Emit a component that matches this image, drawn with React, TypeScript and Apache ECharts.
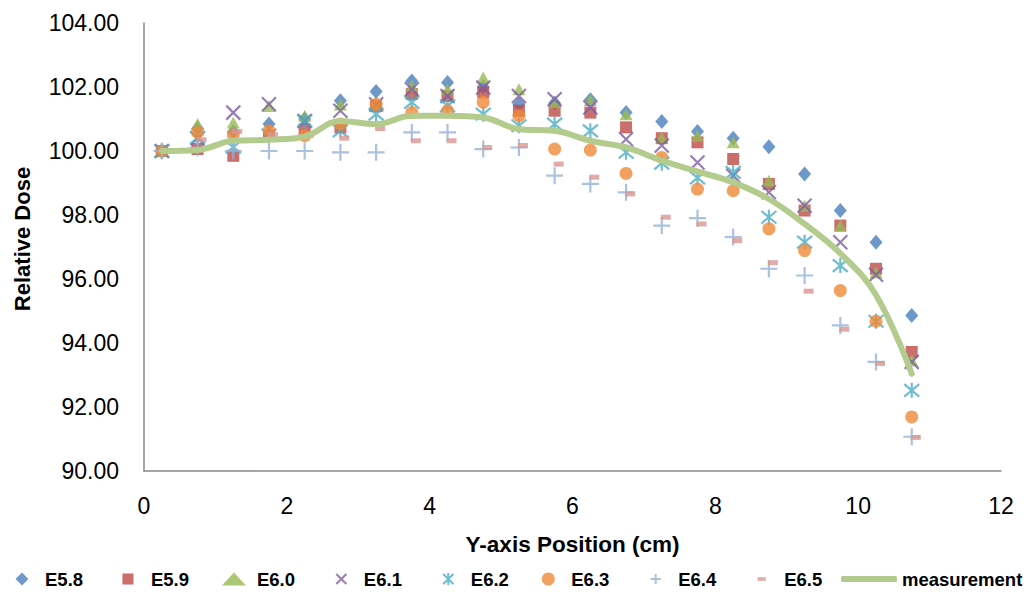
import React, { useEffect, useRef } from "react";
import * as echarts from "echarts";

// Positions along the Y axis (cm)
const positions = [0.25, 0.75, 1.25, 1.75, 2.25, 2.75, 3.25, 3.75, 4.25, 4.75, 5.25, 5.75, 6.25, 6.75, 7.25, 7.75, 8.25, 8.75, 9.25, 9.75, 10.25, 10.75];

const e58 = [100.0, 100.7, 100.6, 100.84, 101.0, 101.57, 101.86, 102.19, 102.14, 102.0, 101.46, 101.5, 101.6, 101.2, 100.92, 100.61, 100.4, 100.13, 99.28, 98.14, 97.15, 94.86];
const e59 = [100.0, 100.06, 99.85, 100.48, 100.68, 100.74, 101.4, 101.78, 101.72, 101.83, 101.26, 101.26, 101.2, 100.74, 100.4, 100.27, 99.75, 98.97, 98.14, 97.67, 96.32, 93.72];
const e60 = [100.0, 100.84, 100.89, 101.41, 101.1, 101.45, 101.5, 102.04, 101.93, 102.3, 101.93, 101.52, 101.59, 101.15, 100.42, 100.48, 100.27, 99.07, 98.29, 97.67, 96.2, 93.46];
const e61 = [100.0, 100.4, 101.2, 101.46, 100.94, 101.26, 101.46, 101.93, 101.72, 101.98, 101.72, 101.62, 101.36, 100.37, 100.17, 99.64, 99.23, 98.71, 98.29, 97.15, 96.13, 93.41];
const e62 = [100.0, 100.42, 100.12, 100.5, 100.94, 100.63, 101.15, 101.52, 101.41, 101.15, 100.79, 100.84, 100.63, 99.96, 99.62, 99.16, 99.33, 97.93, 97.15, 96.42, 94.68, 92.52];
const e63 = [100.0, 100.58, 100.51, 100.63, 100.48, 100.84, 101.46, 101.2, 101.26, 101.52, 101.1, 100.06, 100.03, 99.3, 99.8, 98.81, 98.76, 97.57, 96.89, 95.64, 94.68, 91.69];
const e64 = [100.0, 100.1, 100.0, 100.0, 100.0, 99.96, 99.96, 100.58, 100.58, 100.06, 100.11, 99.23, 98.97, 98.71, 97.67, 97.9, 97.31, 96.32, 96.11, 94.55, 93.41, 91.07];
const e65 = [100.0, 100.35, 100.61, 100.51, 100.48, 100.4, 100.7, 100.32, 100.32, 100.11, 100.17, 99.59, 99.18, 98.66, 97.93, 97.72, 97.2, 96.51, 95.62, 94.43, 93.36, 91.05];
const measurement = [100.0, 100.03, 100.32, 100.35, 100.45, 100.94, 100.84, 101.1, 101.1, 101.05, 100.68, 100.63, 100.32, 100.11, 99.7, 99.36, 99.02, 98.5, 97.72, 96.8, 95.5, 93.04];

const yTicks = { min: 90, max: 104, interval: 2 };
const xTicks = { min: 0, max: 12, interval: 2 };

const FONT = "Liberation Sans, Arial, sans-serif";

const X_PATH = "path://M0,0L10,10M10,0L0,10";
const STAR_PATH = "path://M0,0L10,10M10,0L0,10M5,-1L5,11";
const PLUS_PATH = "path://M5,0L5,10M0,5L10,5";

// legend icons (a framing box of moves keeps the glyph small inside the icon area)
const LEG_X = "path://M0,0M26,13M8,1L19,12M19,1L8,12";
const LEG_STAR = "path://M0,0M26,13M8,1L19,12M19,1L8,12M13.5,0L13.5,13";
const LEG_PLUS = "path://M0,0M26,13M8,6.5L19,6.5M13.5,1L13.5,12";
const LEG_DASH = "path://M0,0M26,13M9,4.5L18,4.5L18,8.5L9,8.5Z";
const LEG_SQUARE = "path://M0,0M26,13M7,0.5L19,0.5L19,12.5L7,12.5Z";
const LEG_DIAMOND = "path://M0,0M26,13M13,-0.5L20,6.5L13,13.5L6,6.5Z";

function pts(vals: number[]) {
  return positions.map((x, i) => [x, vals[i]]);
}

const seriesDefs = [
  { name: "E5.8", data: e58, symbol: "diamond", size: [13, 15], fill: "#4a7ebb", stroke: null, icon: LEG_DIAMOND },
  { name: "E5.9", data: e59, symbol: "rect", size: 12, fill: "#be4b48", stroke: null, icon: LEG_SQUARE },
  { name: "E6.0", data: e60, symbol: "triangle", size: [13, 12], fill: "#98b954", stroke: null, icon: "triangle" },
  { name: "E6.1", data: e61, symbol: X_PATH, size: 14, fill: "transparent", stroke: "#7d5fa0", icon: LEG_X },
  { name: "E6.2", data: e62, symbol: STAR_PATH, size: 15, fill: "transparent", stroke: "#4bacc6", icon: LEG_STAR },
  { name: "E6.3", data: e63, symbol: "circle", size: 13, fill: "#f08a38", stroke: null, icon: "circle" },
  { name: "E6.4", data: e64, symbol: PLUS_PATH, size: 17, fill: "transparent", stroke: "#95b3d7", icon: LEG_PLUS },
  { name: "E6.5", data: e65, symbol: "rect", size: [10, 5], fill: "#d99694", stroke: null, offset: [4, 0], icon: LEG_DASH },
];

export default function App() {
  const ref = useRef<HTMLDivElement>(null);
  useEffect(() => {
    if (!ref.current) return;
    const chart = echarts.init(ref.current, null, { renderer: "svg" });
    const scatter = seriesDefs.map((s: any) => ({
      name: s.name,
      type: "scatter",
      data: pts(s.data),
      symbol: s.symbol,
      symbolSize: s.size,
      symbolOffset: s.offset || [0, 0],
      itemStyle: s.stroke
        ? { color: s.fill, borderColor: s.stroke, borderWidth: 2.2 }
        : { color: s.fill },
      emphasis: { disabled: true },
    }));
    const legendText = { fontFamily: FONT, fontWeight: "bold", fontSize: 18.5, lineHeight: 20, color: "#000" };
    chart.setOption({
      animation: false,
      grid: { left: 144, right: 33, top: 23, bottom: 121 },
      xAxis: {
        type: "value",
        min: xTicks.min,
        max: xTicks.max,
        interval: xTicks.interval,
        name: "Y-axis Position (cm)",
        nameLocation: "middle",
        nameGap: 62,
        nameTextStyle: { fontFamily: FONT, fontWeight: "bold", fontSize: 22.5, color: "#000" },
        axisLine: { show: true, lineStyle: { color: "#888888", width: 1.5 } },
        axisTick: { show: false },
        splitLine: { show: false },
        axisLabel: { fontFamily: FONT, fontSize: 23, color: "#000", margin: 23 },
      },
      yAxis: {
        type: "value",
        min: yTicks.min,
        max: yTicks.max,
        interval: yTicks.interval,
        name: "Relative Dose",
        nameLocation: "middle",
        nameGap: 111,
        nameTextStyle: { fontFamily: FONT, fontWeight: "bold", fontSize: 22, color: "#000", padding: [0, 0, 0, 16] },
        axisLine: { show: true, lineStyle: { color: "#888888", width: 1.5 } },
        axisTick: { show: false },
        splitLine: { show: false },
        axisLabel: {
          fontFamily: FONT,
          fontSize: 23,
          color: "#000",
          margin: 25,
          formatter: (v: number) => v.toFixed(2),
        },
      },
      legend: [
        {
          data: seriesDefs.map((s) => ({ name: s.name, icon: s.icon })),
          left: 5,
          top: 564,
          orient: "horizontal",
          itemWidth: 24,
          itemHeight: 13,
          itemGap: 32.9,
          textStyle: { ...legendText, padding: [0, 0, 0, 6] },
          selectedMode: false,
        },
        {
          data: [{ name: "measurement", icon: "roundRect" }],
          left: 836,
          top: 564,
          itemWidth: 56,
          itemHeight: 6,
          itemStyle: { color: "#b4cb8e" },
          textStyle: legendText,
          selectedMode: false,
        },
      ],
      series: [
        ...scatter,
        {
          name: "measurement",
          type: "line",
          data: pts(measurement),
          smooth: 0.4,
          showSymbol: false,
          symbol: "none",
          lineStyle: { color: "#b4cb8e", width: 6, cap: "round" },
          itemStyle: { color: "#b4cb8e" },
          emphasis: { disabled: true },
          z: 3,
        },
      ],
    });
    return () => chart.dispose();
  }, []);
  return <div ref={ref} style={{ width: 1034, height: 592, position: "absolute", left: 0, top: 0 }} />;
}
